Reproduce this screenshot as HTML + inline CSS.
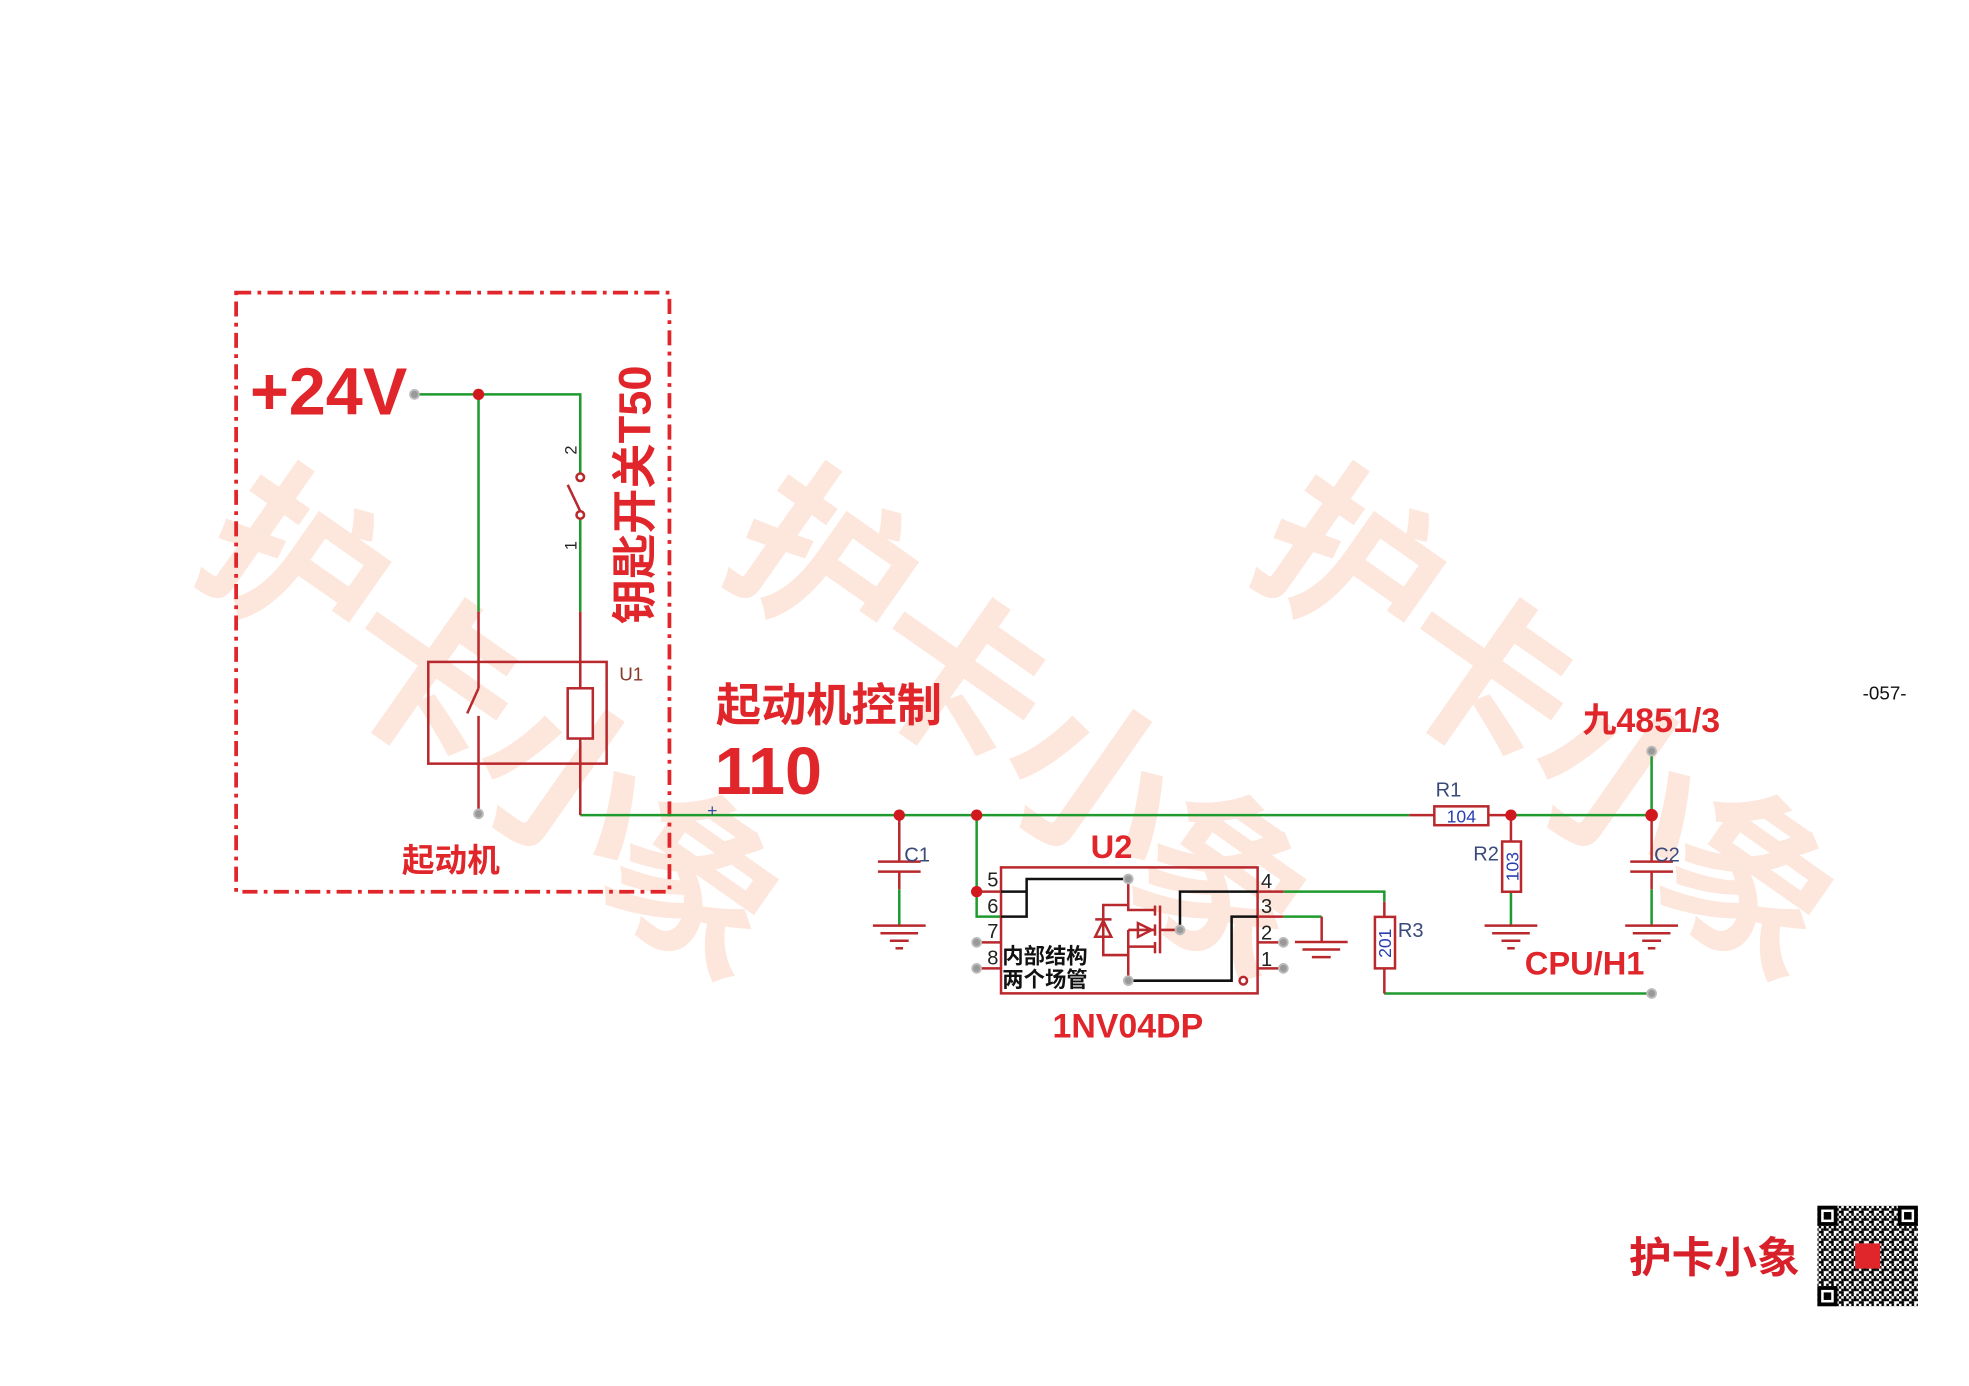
<!DOCTYPE html>
<html><head><meta charset="utf-8"><style>
html,body{margin:0;padding:0;background:#fff}
svg{display:block}
.cn{font-family:"Liberation Sans","Noto Sans CJK SC",sans-serif}
</style></head><body>
<svg width="1969" height="1386" viewBox="0 0 1567.7 1103.5" xmlns="http://www.w3.org/2000/svg" class="cn">
<defs>
<pattern id="qr" width="8" height="8" patternUnits="userSpaceOnUse">
<rect width="8" height="8" fill="#fff"/>
<rect x="0" y="0" width="2" height="2" fill="#000"/><rect x="4" y="0" width="2" height="4" fill="#000"/>
<rect x="2" y="2" width="2" height="2" fill="#000"/><rect x="6" y="2" width="2" height="2" fill="#000"/>
<rect x="0" y="4" width="4" height="2" fill="#000"/><rect x="6" y="6" width="2" height="2" fill="#000"/>
<rect x="2" y="6" width="2" height="2" fill="#000"/>
</pattern>
</defs>
<rect width="1567.7" height="1103.5" fill="#fff"/>

<!-- watermark -->
<g fill="#fde6dc" font-size="140" font-weight="bold">
<g transform="translate(0,0)">
<text transform="translate(150,450) rotate(35)">护</text>
<text transform="translate(255,540) rotate(35)">卡</text>
<text transform="translate(365,625) rotate(35)">小</text>
<text transform="translate(470,705) rotate(35)">象</text>
</g>
<g transform="translate(420,0)">
<text transform="translate(150,450) rotate(35)">护</text>
<text transform="translate(255,540) rotate(35)">卡</text>
<text transform="translate(365,625) rotate(35)">小</text>
<text transform="translate(470,705) rotate(35)">象</text>
</g>
<g transform="translate(840,0)">
<text transform="translate(150,450) rotate(35)">护</text>
<text transform="translate(255,540) rotate(35)">卡</text>
<text transform="translate(365,625) rotate(35)">小</text>
<text transform="translate(470,705) rotate(35)">象</text>
</g>
</g>

<!-- dashed box -->
<rect x="188" y="233" width="345" height="477" fill="none" stroke="#e0262a" stroke-width="3" stroke-dasharray="12,5,3,5"/>

<g font-weight="bold" fill="#e0262a">
<text x="199" y="330" font-size="53">+24V</text>
<text font-size="36" transform="translate(518,497) rotate(-90)">钥匙开关T50</text>
<text x="320" y="694" font-size="26">起动机</text>
<text x="570" y="574" font-size="36">起动机控制</text>
<text x="569" y="632" font-size="53">110</text>
<text x="885" y="683" font-size="26" text-anchor="middle">U2</text>
<text x="898" y="826" font-size="27" text-anchor="middle">1NV04DP</text>
<text x="1260" y="583" font-size="27">九4851/3</text>
<text x="1214" y="776" font-size="26">CPU/H1</text>
</g>

<!-- green wires -->
<g stroke="#1e9a2e" stroke-width="2" fill="none">
<polyline points="330,314 462,314 462,377"/>
<line x1="381" y1="314" x2="381" y2="487"/>
<line x1="462" y1="413" x2="462" y2="487"/>
<polyline points="462,649 1122,649"/>
<line x1="1203" y1="649" x2="1315" y2="649"/>
<line x1="1315" y1="598" x2="1315" y2="649"/>
<polyline points="777.6,649 777.6,729.8 797,729.8"/>
<line x1="716" y1="708" x2="716" y2="737"/>
<line x1="1315" y1="708" x2="1315" y2="737"/>
<line x1="1203" y1="710" x2="1203" y2="737"/>
<polyline points="1021.8,709.9 1102.2,709.9 1102.2,718"/>
<polyline points="1021.8,729.8 1052.3,729.8"/>
<polyline points="1102,791 1315,791"/>
</g>

<!-- dark red component lines -->
<g stroke="#b8282c" stroke-width="2" fill="none">
<line x1="381" y1="487" x2="381" y2="548"/>
<line x1="372" y1="568" x2="381" y2="548"/>
<line x1="381" y1="570" x2="381" y2="648"/>
<rect x="341" y="527" width="142" height="81"/>
<line x1="462" y1="487" x2="462" y2="649"/>
<rect x="452" y="548" width="20" height="40" fill="#fff"/>
<line x1="462" y1="407" x2="452" y2="386"/>
<circle cx="462" cy="380" r="3" fill="#fff"/>
<circle cx="462" cy="410" r="3" fill="#fff"/>
<line x1="716" y1="649" x2="716" y2="686"/>
<line x1="699" y1="686" x2="733" y2="686"/>
<line x1="699" y1="694" x2="733" y2="694"/>
<line x1="716" y1="694" x2="716" y2="708"/>
<line x1="695" y1="737" x2="737" y2="737"/>
<line x1="701" y1="743" x2="731" y2="743"/>
<line x1="708.5" y1="749" x2="723.5" y2="749"/>
<line x1="713" y1="755" x2="719" y2="755"/>
<line x1="1315" y1="649" x2="1315" y2="686"/>
<line x1="1298" y1="686" x2="1332" y2="686"/>
<line x1="1298" y1="694" x2="1332" y2="694"/>
<line x1="1315" y1="694" x2="1315" y2="708"/>
<line x1="1294" y1="737" x2="1336" y2="737"/>
<line x1="1300" y1="743" x2="1330" y2="743"/>
<line x1="1307.5" y1="749" x2="1322.5" y2="749"/>
<line x1="1312" y1="755" x2="1318" y2="755"/>
<line x1="1182" y1="737" x2="1224" y2="737"/>
<line x1="1188" y1="743" x2="1218" y2="743"/>
<line x1="1195.5" y1="749" x2="1210.5" y2="749"/>
<line x1="1200" y1="755" x2="1206" y2="755"/>
<line x1="1052.3" y1="729.8" x2="1052.3" y2="750"/>
<line x1="1031" y1="750" x2="1073" y2="750"/>
<line x1="1037" y1="756" x2="1067" y2="756"/>
<line x1="1044.5" y1="762" x2="1059.5" y2="762"/>
<line x1="1122" y1="649" x2="1142" y2="649"/>
<line x1="1185" y1="649" x2="1203" y2="649"/>
<rect x="1142" y="642" width="43" height="15"/>
<line x1="1203" y1="649" x2="1203" y2="670"/>
<rect x="1196" y="670" width="15" height="40"/>
<line x1="1102.2" y1="718" x2="1102.2" y2="730"/>
<rect x="1094.7" y="730" width="16" height="41"/>
<polyline points="1102.2,771 1102.2,791"/>
<rect x="797" y="690.6" width="204.3" height="100.3"/>
<line x1="777.6" y1="709.9" x2="797" y2="709.9"/>
<line x1="777.6" y1="750.3" x2="797" y2="750.3"/>
<line x1="777.6" y1="771" x2="797" y2="771"/>
<line x1="1001.3" y1="709.9" x2="1021.8" y2="709.9"/>
<line x1="1001.3" y1="729.8" x2="1021.8" y2="729.8"/>
<line x1="1001.3" y1="750.3" x2="1021.8" y2="750.3"/>
<line x1="1001.3" y1="771" x2="1021.8" y2="771"/>
<circle cx="989.9" cy="780.8" r="3" fill="#fff"/>
<polyline points="898.3,699.8 898.3,724.5 919.6,724.5"/>
<line x1="898.3" y1="740.4" x2="919.6" y2="740.4"/>
<line x1="898.3" y1="753.7" x2="919.6" y2="753.7"/>
<line x1="898.3" y1="740.4" x2="898.3" y2="780.8"/>
<line x1="919.6" y1="721" x2="919.6" y2="729"/>
<line x1="919.6" y1="736" x2="919.6" y2="745"/>
<line x1="919.6" y1="750" x2="919.6" y2="759"/>
<line x1="923.6" y1="721" x2="923.6" y2="759"/>
<line x1="923.6" y1="740.4" x2="939.5" y2="740.4"/>
<polygon points="906,735 917,740.4 906,746"/>
<polyline points="898.3,720.5 878.4,720.5 878.4,760.4 898.3,760.4"/>
<polygon points="872,745.8 884.8,745.8 878.4,733"/>
<line x1="872" y1="732" x2="885" y2="732"/>
</g>

<g stroke="#111" stroke-width="2" fill="none">
<polyline points="797,709.9 817.4,709.9"/>
<polyline points="797,729.8 817.4,729.8 817.4,699.8 898.3,699.8"/>
<polyline points="939.5,740.4 939.5,709.9 1001.3,709.9"/>
<polyline points="1001.3,729.8 980.6,729.8 980.6,780.8 898.3,780.8"/>
</g>

<g fill="#d0181e">
<circle cx="381" cy="314" r="4.5"/>
<circle cx="716" cy="649" r="4.5"/>
<circle cx="777.6" cy="649" r="4.5"/>
<circle cx="777.6" cy="709.9" r="4.5"/>
<circle cx="1203" cy="649" r="4.5"/>
<circle cx="1315" cy="649" r="5"/>
</g>
<g fill="#999" stroke="#bbb" stroke-width="1.5">
<circle cx="330" cy="314" r="3.5"/>
<circle cx="381" cy="648" r="3.5"/>
<circle cx="1315" cy="598" r="3.5"/>
<circle cx="1315" cy="791" r="3.5"/>
<circle cx="777.6" cy="750.3" r="3.5"/>
<circle cx="777.6" cy="771" r="3.5"/>
<circle cx="1021.8" cy="750.3" r="3.5"/>
<circle cx="1021.8" cy="771" r="3.5"/>
<circle cx="898.3" cy="699.8" r="3.5"/>
<circle cx="898.3" cy="780.8" r="3.5"/>
<circle cx="939.5" cy="740.4" r="3.5"/>
</g>

<text x="493" y="542" font-size="15" fill="#8a3a2a">U1</text>
<g font-size="13" fill="#222">
<text transform="translate(459,362) rotate(-90)">2</text>
<text transform="translate(459,438) rotate(-90)">1</text>
</g>
<text x="563" y="650" font-size="14" fill="#3050a0">+</text>
<g font-size="16" fill="#3a4a7a">
<text x="720" y="686">C1</text>
<text x="1317" y="686">C2</text>
<text x="1143" y="634">R1</text>
<text x="1173" y="685">R2</text>
<text x="1113" y="746">R3</text>
</g>
<g font-size="14" fill="#2a40b0">
<text x="1163.5" y="655" text-anchor="middle">104</text>
<text transform="translate(1209,690) rotate(-90)" text-anchor="middle">103</text>
<text transform="translate(1107.5,751) rotate(-90)" text-anchor="middle">201</text>
</g>
<g font-size="16" fill="#222">
<text x="786" y="706">5</text>
<text x="786" y="727">6</text>
<text x="786" y="747">7</text>
<text x="786" y="768">8</text>
<text x="1004" y="707">4</text>
<text x="1004" y="727">3</text>
<text x="1004" y="748">2</text>
<text x="1004" y="769">1</text>
</g>
<g font-size="17" fill="#111" font-weight="bold">
<text x="798" y="767">内部结构</text>
<text x="798" y="786">两个场管</text>
</g>
<text x="1483" y="557" font-size="15" fill="#111">-057-</text>

<text x="1297" y="1013" font-size="34" font-weight="bold" fill="#d8202a">护卡小象</text>
<rect x="1447" y="960" width="80" height="80" fill="url(#qr)"/>
<g fill="#000">
<rect x="1447" y="960" width="16" height="16"/><rect x="1511" y="960" width="16" height="16"/><rect x="1447" y="1024" width="16" height="16"/>
</g>
<g fill="#fff">
<rect x="1450" y="963" width="10" height="10"/><rect x="1514" y="963" width="10" height="10"/><rect x="1450" y="1027" width="10" height="10"/>
</g>
<g fill="#000">
<rect x="1452" y="965" width="6" height="6"/><rect x="1516" y="965" width="6" height="6"/><rect x="1452" y="1029" width="6" height="6"/>
</g>
<rect x="1477" y="990" width="20" height="20" fill="#e0262a"/>
</svg>
</body></html>
